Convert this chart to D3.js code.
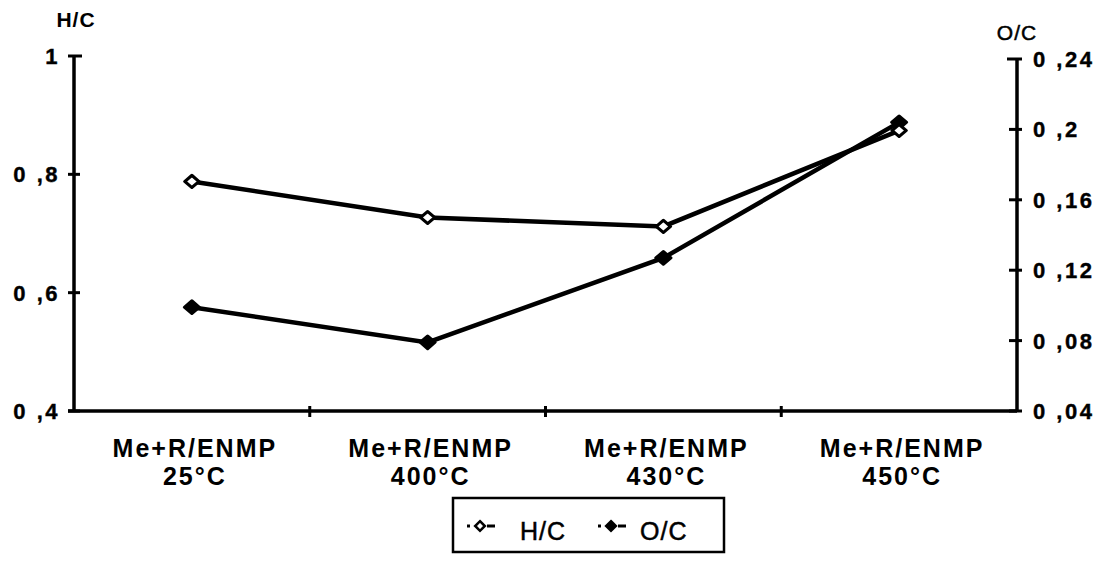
<!DOCTYPE html>
<html>
<head>
<meta charset="utf-8">
<script src="https://cdn.jsdelivr.net/npm/d3@7"></script>
<style>
  body { margin: 0; background: #fff; }
  text { font-family: "Liberation Sans", Arial, sans-serif; font-weight: bold; fill: #000; }
</style>
</head>
<body>
<svg id="chart"></svg>
<script>
// Data
let categories = ["Me+R/ENMP 25°C", "Me+R/ENMP 400°C", "Me+R/ENMP 430°C", "Me+R/ENMP 450°C"];
let hcValues = [0.788, 0.727, 0.712, 0.874];
let ocValues = [0.099, 0.079, 0.127, 0.204];
let leftTicks = [0.4, 0.6, 0.8, 1];
let rightTicks = [0.04, 0.08, 0.12, 0.16, 0.2, 0.24];

let width = 1106;
let height = 563;
let left = 74;
let right = 1017;
let bottom = 411;

let svg = d3.select("#chart").attr("width", width).attr("height", height);

let xScale = d3.scaleBand().domain(categories).range([left, right]);
let yLeft = d3.scaleLinear().domain([0.4, 1]).range([bottom, 56]);
let yRight = d3.scaleLinear().domain([0.04, 0.24]).range([bottom, 59]);

let fmt = (t) => (t === 1 ? "1" : String(t).replace(".", " ,"));

let drawAxes = () => {
  // left axis
  svg.append("line").attr("x1", left).attr("x2", left)
    .attr("y1", yLeft(1)).attr("y2", bottom)
    .attr("stroke", "#000").attr("stroke-width", 3.5);
  leftTicks.forEach((t) => {
    let y = yLeft(t);
    svg.append("line").attr("x1", left - 6).attr("x2", t === 1 ? left + 8 : left + 6)
      .attr("y1", y).attr("y2", y).attr("stroke", "#000").attr("stroke-width", 3);
    svg.append("text").attr("x", left - 14).attr("y", y + 8)
      .attr("text-anchor", "end").attr("font-size", 22)
      .attr("stroke", "#000").attr("stroke-width", 0.4)
      .style("letter-spacing", "2.5px")
      .text(fmt(t));
  });

  // right axis
  svg.append("line").attr("x1", right).attr("x2", right)
    .attr("y1", yRight(0.24)).attr("y2", bottom)
    .attr("stroke", "#000").attr("stroke-width", 3.5);
  rightTicks.forEach((t) => {
    let y = yRight(t);
    svg.append("line").attr("x1", t === 0.24 ? right - 10 : right - 8).attr("x2", right + 5)
      .attr("y1", y).attr("y2", y).attr("stroke", "#000").attr("stroke-width", 3);
    svg.append("text").attr("x", right + 16).attr("y", y + 8)
      .attr("text-anchor", "start").attr("font-size", 22)
      .attr("stroke", "#000").attr("stroke-width", 0.4)
      .style("letter-spacing", "2.5px")
      .text(fmt(t));
  });

  // bottom axis
  svg.append("line").attr("x1", left - 6).attr("x2", right)
    .attr("y1", bottom).attr("y2", bottom)
    .attr("stroke", "#000").attr("stroke-width", 3.5);
  categories.forEach((c, i) => {
    if (i > 0) {
      let x = xScale(c);
      svg.append("line").attr("x1", x).attr("x2", x)
        .attr("y1", bottom - 5).attr("y2", bottom + 6).attr("stroke", "#000").attr("stroke-width", 3);
    }
    let cx = xScale(c) + xScale.bandwidth() / 2 + 3;
    let parts = c.split(" ");
    let txt = svg.append("text").attr("x", cx).attr("y", 457)
      .attr("text-anchor", "middle").attr("font-size", 25)
      .style("letter-spacing", "2px");
    txt.append("tspan").attr("x", cx).text(parts[0]);
    txt.append("tspan").attr("x", cx).attr("dy", 28).text(parts[1]);
  });

  // axis titles
  svg.append("text").attr("x", 76).attr("y", 27).attr("text-anchor", "middle")
    .attr("font-size", 21).style("letter-spacing", "1px").text("H/C");
  svg.append("text").attr("x", 1017).attr("y", 40).attr("text-anchor", "middle")
    .attr("font-size", 21).attr("stroke", "#000").attr("stroke-width", 0.5)
    .style("font-weight", "normal").style("letter-spacing", "1px").text("O/C");
};

let diamond = d3.symbol().type(d3.symbolDiamond2).size(115);

let drawSeries = () => {
  let cx = (i) => xScale(categories[i]) + xScale.bandwidth() / 2;
  let lineL = d3.line().x((d, i) => cx(i)).y((d) => yLeft(d));
  let lineR = d3.line().x((d, i) => cx(i)).y((d) => yRight(d));

  svg.append("path").datum(ocValues).attr("d", lineR)
    .attr("fill", "none").attr("stroke", "#000").attr("stroke-width", 4.5);
  svg.append("path").datum(hcValues).attr("d", lineL)
    .attr("fill", "none").attr("stroke", "#000").attr("stroke-width", 4.5);

  svg.selectAll(".oc").data(ocValues).enter().append("path")
    .attr("class", "oc").attr("d", diamond)
    .attr("transform", (d, i) => "translate(" + cx(i) + "," + yRight(d) + ") scale(1.1,0.95)")
    .attr("fill", "#000").attr("stroke", "#000").attr("stroke-width", 3).attr("stroke-linejoin", "round");

  svg.selectAll(".hc").data(hcValues).enter().append("path")
    .attr("class", "hc").attr("d", diamond)
    .attr("transform", (d, i) => "translate(" + cx(i) + "," + yLeft(d) + ") scale(1.05,0.9)")
    .attr("fill", "#fff").attr("stroke", "#000").attr("stroke-width", 3.2).attr("stroke-linejoin", "round");
};

let drawLegend = () => {
  let g = svg.append("g");
  g.append("rect").attr("x", 453).attr("y", 498).attr("width", 271).attr("height", 54)
    .attr("fill", "#fff").attr("stroke", "#000").attr("stroke-width", 2.5);
  let items = [
    { label: "H/C", x: 480, fill: "#fff", tx: 520 },
    { label: "O/C", x: 611, fill: "#000", tx: 640 },
  ];
  items.forEach((it) => {
    g.append("line").attr("x1", it.x - 13).attr("x2", it.x - 10).attr("y1", 526).attr("y2", 526)
      .attr("stroke", "#000").attr("stroke-width", 3);
    g.append("line").attr("x1", it.x + 7).attr("x2", it.x + 15).attr("y1", 526).attr("y2", 526)
      .attr("stroke", "#000").attr("stroke-width", 3);
    g.append("path").attr("d", diamond)
      .attr("transform", "translate(" + it.x + ",526) scale(0.72,0.72)")
      .attr("fill", it.fill).attr("stroke", "#000").attr("stroke-width", 3.5);
    g.append("text").attr("x", it.tx).attr("y", 540).attr("font-size", 25)
      .attr("stroke", "#000").attr("stroke-width", 0.5)
      .style("font-weight", "normal").style("letter-spacing", "1px").text(it.label);
  });
};

drawAxes();
drawSeries();
drawLegend();
</script>
</body>
</html>
